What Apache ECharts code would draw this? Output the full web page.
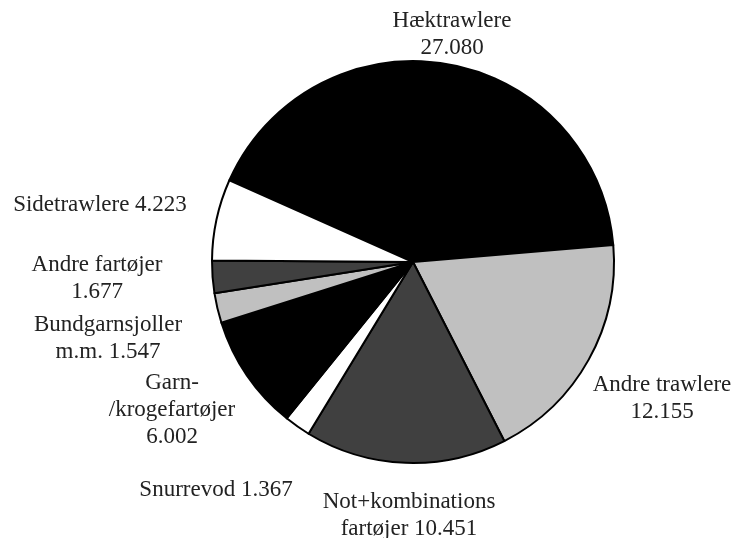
<!DOCTYPE html>
<html>
<head>
<meta charset="utf-8">
<script src="https://cdn.jsdelivr.net/npm/echarts@6.0.0/dist/echarts.min.js"></script>
<style>
  html, body { margin: 0; padding: 0; background: #fff; }
  #chart { width: 734px; height: 538px; }
</style>
</head>
<body>
<div id="chart"></div>
<script>
// --- Data ---
const categories = ['Hæktrawlere', 'Andre trawlere', 'Not+kombinations fartøjer', 'Snurrevod',
  'Garn-/krogefartøjer', 'Bundgarnsjoller m.m.', 'Andre fartøjer', 'Sidetrawlere'];
const values = [27080, 12155, 10451, 1367, 6002, 1547, 1677, 4223];
// label text as printed (line breaks as in the source)
const labelTexts = [
  'Hæktrawlere\n27.080',
  'Andre trawlere\n12.155',
  'Not+kombinations\nfartøjer 10.451',
  'Snurrevod 1.367',
  'Garn-\n/krogefartøjer\n6.002',
  'Bundgarnsjoller\nm.m. 1.547',
  'Andre fartøjer\n1.677',
  'Sidetrawlere 4.223'
];

// --- Styling / layout ---
const sliceColors = ['#000000', '#c0c0c0', '#404040', '#ffffff', '#000000', '#c0c0c0', '#404040', '#ffffff'];
const labelCenters = [
  [452, 34], [662, 398], [409, 515], [216, 490],
  [172, 410], [108, 338], [97, 278], [100, 205]
];

const chart = echarts.init(document.getElementById('chart'));
chart.setOption({
  animation: false,
  series: [{
    type: 'pie',
    center: [413, 262],
    radius: 201,
    startAngle: 156,
    clockwise: true,
    avoidLabelOverlap: false,
    data: categories.map((c, i) => ({
      name: c,
      value: values[i],
      itemStyle: { color: sliceColors[i] }
    })),
    itemStyle: { borderColor: '#000', borderWidth: 2 },
    emphasis: { disabled: true },
    label: {
      show: true,
      position: 'outside',
      formatter: (p) => labelTexts[p.dataIndex],
      fontFamily: '"Liberation Serif", "Times New Roman", serif',
      fontSize: 23,
      lineHeight: 27,
      color: '#222',
      align: 'center'
    },
    labelLine: { show: false },
    labelLayout: (params) => ({
      x: labelCenters[params.dataIndex][0],
      y: labelCenters[params.dataIndex][1],
      align: 'center',
      verticalAlign: 'middle'
    })
  }]
});
</script>
</body>
</html>
